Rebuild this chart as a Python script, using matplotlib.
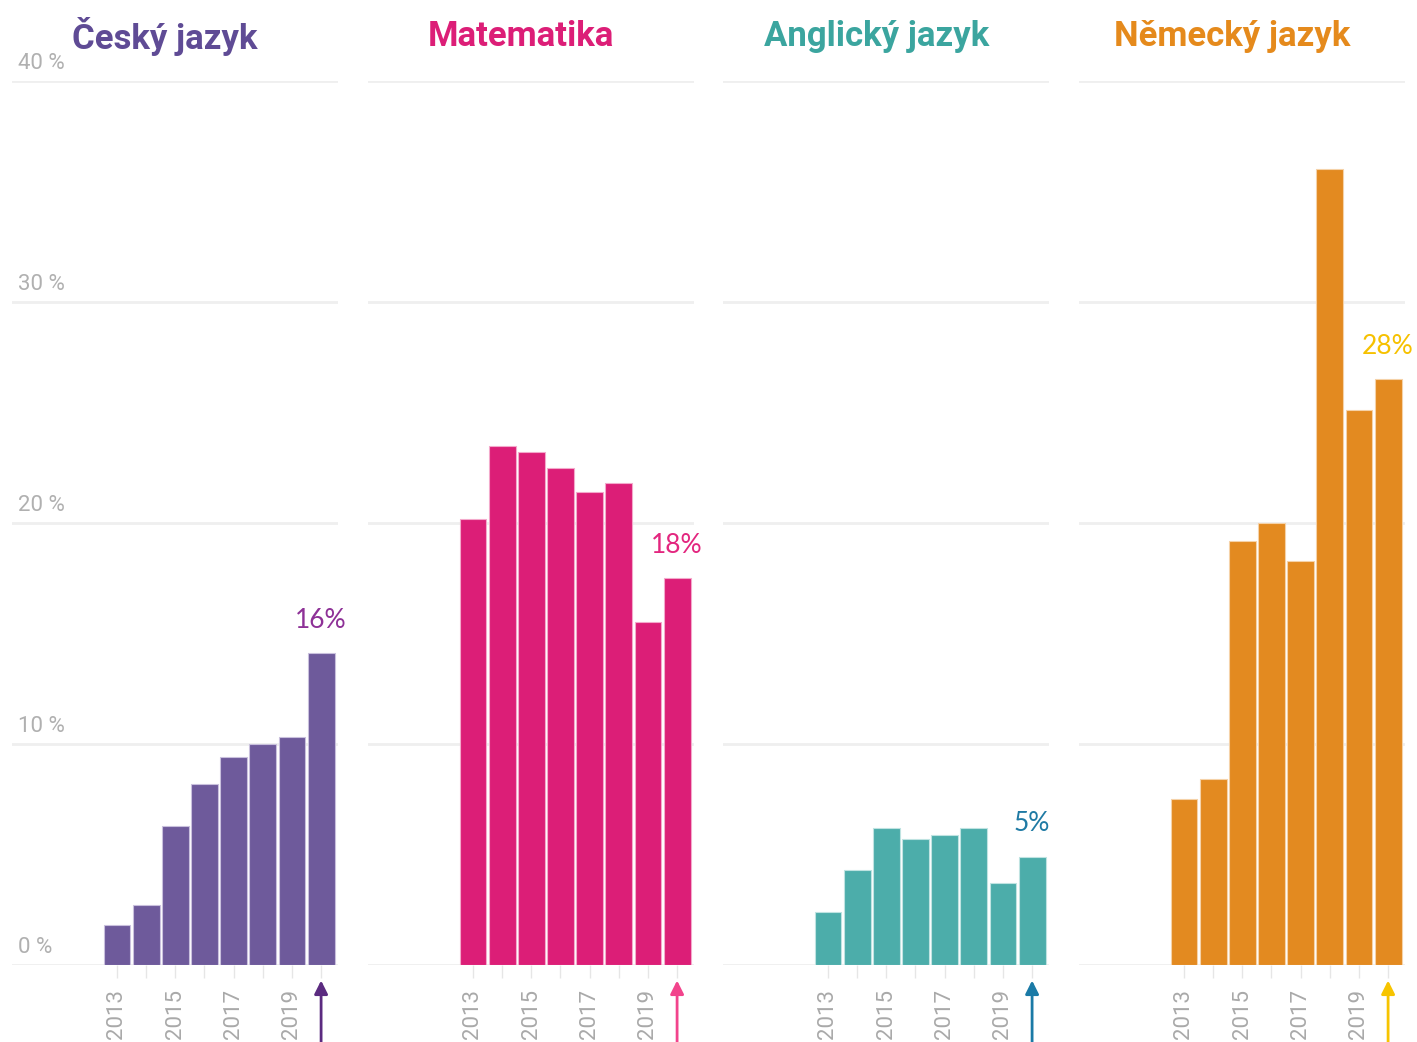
import matplotlib
matplotlib.use("Agg")
import matplotlib.pyplot as plt

years = [2013, 2014, 2015, 2016, 2017, 2018, 2019, 2020]

subjects = ["Český jazyk", "Matematika", "Anglický jazyk", "Německý jazyk"]

cesky = [1.8, 2.7, 6.3, 8.2, 9.4, 10.0, 10.3, 14.1]
matematika = [20.2, 23.5, 23.2, 22.5, 21.4, 21.8, 15.5, 17.5]
anglicky = [2.4, 4.3, 6.2, 5.7, 5.9, 6.2, 3.7, 4.9]
nemecky = [7.5, 8.4, 19.2, 20.0, 18.3, 36.0, 25.1, 26.5]

labels_2020 = ["16%", "18%", "5%", "28%"]

yticks = [0, 10, 20, 30, 40]
year_labels = ["2013", "", "2015", "", "2017", "", "2019", ""]

series = [cesky, matematika, anglicky, nemecky]
bar_colors = ["#6e5a9b", "#dc1e77", "#4cadaa", "#e38a20"]
edge_colors = ["#c9c0dd", "#f3a9cb", "#bfe3e1", "#f5d2a8"]
title_colors = ["#5f4b95", "#dc1e77", "#3ba59f", "#e58a1c"]
label_colors = ["#8e3197", "#e3267f", "#1f7aa4", "#f6c100"]
arrow_colors = ["#5b2b80", "#f2448c", "#1a7aa6", "#f7c400"]

W, H = 1417, 1042
fig = plt.figure(figsize=(W / 100, H / 100), dpi=100)

lefts = [12, 368, 723, 1079]
ax_w = 326
ax_bottom = 965
ax_top = 81

for i in range(4):
    ax = fig.add_axes([lefts[i] / W, 1 - ax_bottom / H, ax_w / W, (ax_bottom - ax_top) / H])
    ax.bar(years, series[i], width=0.92, color=bar_colors[i],
           edgecolor=edge_colors[i], linewidth=0.8, zorder=3)
    ax.set_xlim(2009.4, 2020.58)
    ax.set_ylim(0, 40)
    for v in yticks:
        ax.axhline(v, color="#efefef", linewidth=2, zorder=1)
    for s in ax.spines.values():
        s.set_visible(False)
    ax.set_yticks([])
    ax.set_xticks(years)
    ax.set_xticklabels(year_labels, rotation=90, fontsize=16, color="#a9a9a9",
                       family="Roboto")
    ax.tick_params(axis="x", length=9, width=1, color="#e6e6e6", pad=8)

    # title
    ax.text(0.47, 1.05, subjects[i], transform=ax.transAxes, ha="center", va="center",
            fontsize=25, fontweight="bold", color=title_colors[i], family="Roboto")

    # value label for the last year
    ax.text(2020, series[i][-1] + 1.5, labels_2020[i], ha="center", va="center",
            fontsize=19, color=label_colors[i], family="Lato", fontweight="normal",
            zorder=4, clip_on=False)

    # arrow pointing to 2020
    ax.annotate("", xy=(2020, -0.7), xycoords="data",
                xytext=(2020, -4.5), textcoords="data",
                arrowprops=dict(arrowstyle="-|>", color=arrow_colors[i], lw=2,
                                mutation_scale=20, shrinkA=0, shrinkB=0),
                annotation_clip=False)

    if i == 0:
        for v in yticks:
            ax.text(2009.6, v + 0.3, f"{v} %", ha="left", va="bottom",
                    fontsize=16, color="#b0b0b0", family="Roboto")

fig.savefig("out.png", dpi=100)
